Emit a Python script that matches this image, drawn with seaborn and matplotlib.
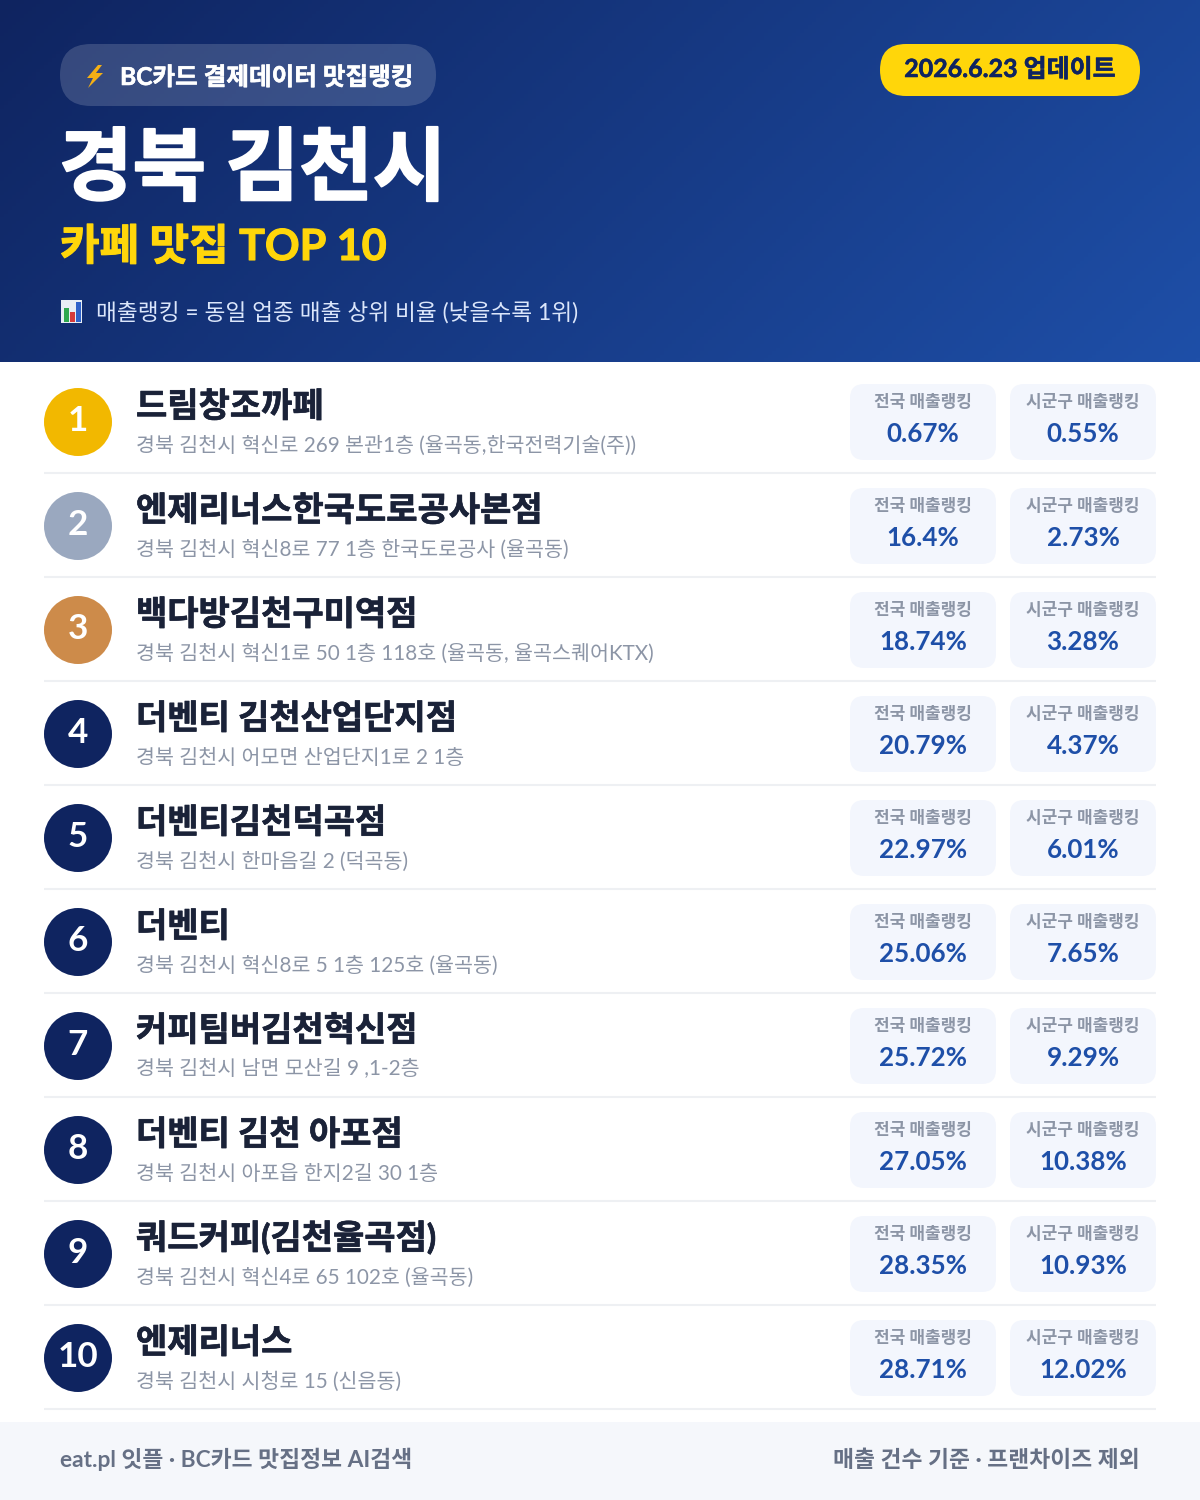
import matplotlib
matplotlib.use('Agg')
import matplotlib.pyplot as plt
import matplotlib.patheffects as pe
from matplotlib.patches import FancyBboxPatch, Polygon, Rectangle
import numpy as np
import pandas as pd
import seaborn as sns

names = ['드림창조까페', '엔제리너스한국도로공사본점', '백다방김천구미역점', '더벤티 김천산업단지점', '더벤티김천덕곡점',
         '더벤티', '커피팀버김천혁신점', '더벤티 김천 아포점', '쿼드커피(김천율곡점)', '엔제리너스']
addresses = ['경북 김천시 혁신로 269 본관1층 (율곡동,한국전력기술(주))',
             '경북 김천시 혁신8로 77 1층 한국도로공사 (율곡동)',
             '경북 김천시 혁신1로 50 1층 118호 (율곡동, 율곡스퀘어KTX)',
             '경북 김천시 어모면 산업단지1로 2 1층',
             '경북 김천시 한마음길 2 (덕곡동)',
             '경북 김천시 혁신8로 5 1층 125호 (율곡동)',
             '경북 김천시 남면 모산길 9 ,1-2층',
             '경북 김천시 아포읍 한지2길 30 1층',
             '경북 김천시 혁신4로 65 102호 (율곡동)',
             '경북 김천시 시청로 15 (신음동)']
national = [0.67, 16.4, 18.74, 20.79, 22.97, 25.06, 25.72, 27.05, 28.35, 28.71]
local = [0.55, 2.73, 3.28, 4.37, 6.01, 7.65, 9.29, 10.38, 10.93, 12.02]
ranks = list(range(1, 11))

sns.set_theme(style='white')
plt.rcParams['font.family'] = ['Lato', 'Noto Sans CJK KR', 'DejaVu Sans']

NAVY = '#0f2460'
BLUE = '#1e4fa8'
YELLOW = '#ffd60a'
px = 0.72  # font px -> pt at dpi 100

fig = plt.figure(figsize=(12, 15), dpi=100, facecolor='white')
ax = fig.add_axes([0, 0, 1, 1])

# header gradient, 135deg
xx, yy = np.meshgrid(np.linspace(0, 1200, 300), np.linspace(0, 362, 100))
t = (xx + yy) / (1200 + 362)
c0, c1 = np.array(matplotlib.colors.to_rgb(NAVY)), np.array(matplotlib.colors.to_rgb(BLUE))
ax.imshow(c0 + (c1 - c0) * t[..., None], extent=(0, 1200, 362, 0), aspect='auto', zorder=0)
ax.set_xlim(0, 1200)
ax.set_ylim(1500, 0)
ax.axis('off')


def pill(x0, y0, x1, y1, r, color, alpha=1, z=1):
    ax.add_patch(FancyBboxPatch((x0 + r, y0 + r), x1 - x0 - 2 * r, y1 - y0 - 2 * r,
                                boxstyle=f'round,pad={r},rounding_size={r}',
                                fc=color, ec='none', alpha=alpha, zorder=z))


def txt(x, y, s, size, color, weight='regular', ha='left', stroke=0):
    t = ax.text(x, y, s, fontsize=size * px, color=color, fontweight=weight, ha=ha, va='baseline', zorder=5)
    if stroke:  # reference hangul is heavier than the bold face here
        t.set_path_effects([pe.withStroke(linewidth=stroke, foreground=color)])


# header
pill(60, 44, 436, 106, 31, 'white', alpha=0.16)
ax.add_patch(Polygon([(98, 65), (87, 78), (93, 78), (88, 88), (103, 73), (96, 73), (102, 65)],
                     fc='#f5b014', ec='none', zorder=5))
txt(120, 85, 'BC카드 결제데이터 맛집랭킹', 24.6, 'white', 'bold', stroke=0.4)
txt(59, 194, '경북 김천시', 80, 'white', 'bold', stroke=1.4)
txt(60, 260, '카페 맛집 TOP 10', 43, YELLOW, 'bold', stroke=0.8)
ax.add_patch(Rectangle((61, 300), 21, 23, fc='#e8eef5', ec='none', zorder=5))
for bx, bh, bc in [(64, 14, '#2fa84f'), (70, 10, '#d63b3b'), (76, 20, '#2f62c9')]:
    ax.add_patch(Rectangle((bx, 322 - bh), 5, bh, fc=bc, ec='none', zorder=6))
txt(96, 320, '매출랭킹 = 동일 업종 매출 상위 비율 (낮을수록 1위)', 22.7, '#dbe6fb')

pill(880, 44, 1140, 96, 26, YELLOW)
txt(1010, 77, '2026.6.23 업데이트', 25, NAVY, 'bold', ha='center', stroke=0.4)

# rank badges
row_y = [422 + 104 * (r - 1) for r in ranks]
df = pd.DataFrame({'rank': ranks, 'y': row_y, 'x': [78] * 10})
medal = {1: '#f2b800', 2: '#9aa8bf', 3: '#cd8b4a'}
pal = {r: medal.get(r, NAVY) for r in ranks}
sns.scatterplot(data=df, x='x', y='y', hue='rank', palette=pal, s=(68 * px) ** 2, linewidth=0,
                legend=False, ax=ax, zorder=4)
ax.set_xlim(0, 1200)
ax.set_ylim(1500, 0)

for r, y, name, addr, nat, loc in zip(ranks, row_y, names, addresses, national, local):
    txt(78, y + 9, str(r), 35, 'white', 'bold', ha='center')
    txt(136, y - 5, name, 34, '#1a2238', 'bold', stroke=0.5)
    txt(136, y + 29.5, addr, 20.6, '#8c95a6')
    ax.plot([44, 1156], [y + 51, y + 51], color='#eef0f3', lw=1.5, zorder=1, solid_capstyle='butt')
    for x0, lab, v in [(850, '전국 매출랭킹', nat), (1010, '시군구 매출랭킹', loc)]:
        pill(x0, y - 38, x0 + 146, y + 38, 14, '#f3f6fd')
        txt(x0 + 73, y - 15, lab, 17, '#8c95a6', 'bold', ha='center')
        txt(x0 + 73, y + 20, f'{v}%', 26, BLUE, 'bold', ha='center')

# footer
ax.add_patch(Rectangle((0, 1422), 1200, 78, fc='#f5f7fb', ec='none', zorder=1))
txt(60, 1467, 'eat.pl 잇플 · BC카드 맛집정보 AI검색', 22.8, '#667085', 'bold')
txt(1140, 1467, '매출 건수 기준 · 프랜차이즈 제외', 22.8, '#667085', 'bold', ha='right')

fig.savefig('out.png', dpi=100)
